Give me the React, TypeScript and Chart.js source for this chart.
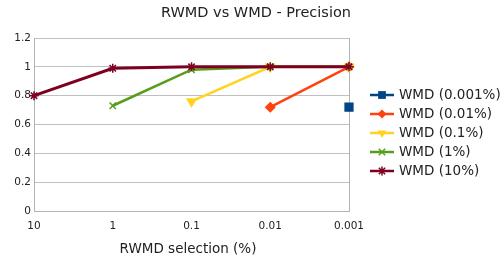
import React, { useEffect, useRef } from "react";
import { Chart, registerables } from "chart.js";

Chart.register(...registerables);

const categories = ["10", "1", "0.1", "0.01", "0.001"];
const seriesNames = ["WMD (0.001%)", "WMD (0.01%)", "WMD (0.1%)", "WMD (1%)", "WMD (10%)"];
const wmd0001 = [null, null, null, null, 0.72];
const wmd001 = [null, null, null, 0.72, 1.0];
const wmd01 = [null, null, 0.76, 1.0, 1.0];
const wmd1 = [null, 0.73, 0.98, 1.0, 1.0];
const wmd10 = [0.8, 0.99, 1.0, 1.0, 1.0];
const yTicks = [0, 0.2, 0.4, 0.6, 0.8, 1, 1.2];

const colors = ["#004586", "#ff420e", "#ffd320", "#579d1c", "#7e0021"];
const styles: any[] = ["rect", "rectRot", "triangle", "crossRot", "star"];
const radii = [5.5, 4.5, 5, 4.5, 4.5];
const rotations = [0, 0, 180, 0, 0];

const FONT = "'DejaVu Sans', sans-serif";

function drawMarker(ctx: CanvasRenderingContext2D, i: number, x: number, y: number) {
  const r = radii[i];
  ctx.save();
  ctx.fillStyle = colors[i];
  ctx.strokeStyle = colors[i];
  ctx.lineWidth = 1.5;
  ctx.beginPath();
  if (i === 0) {
    const s = r * Math.SQRT1_2;
    ctx.rect(x - s, y - s, 2 * s, 2 * s);
    ctx.fill();
  } else if (i === 1) {
    ctx.moveTo(x, y - r);
    ctx.lineTo(x + r, y);
    ctx.lineTo(x, y + r);
    ctx.lineTo(x - r, y);
    ctx.closePath();
    ctx.fill();
  } else if (i === 2) {
    ctx.moveTo(x - r * 0.87, y - r * 0.5);
    ctx.lineTo(x + r * 0.87, y - r * 0.5);
    ctx.lineTo(x, y + r);
    ctx.closePath();
    ctx.fill();
  } else if (i === 3) {
    const s = r * Math.SQRT1_2;
    ctx.moveTo(x - s, y - s);
    ctx.lineTo(x + s, y + s);
    ctx.moveTo(x + s, y - s);
    ctx.lineTo(x - s, y + s);
    ctx.stroke();
  } else {
    const s = r * Math.SQRT1_2;
    ctx.moveTo(x - s, y - s);
    ctx.lineTo(x + s, y + s);
    ctx.moveTo(x + s, y - s);
    ctx.lineTo(x - s, y + s);
    ctx.moveTo(x, y - r);
    ctx.lineTo(x, y + r);
    ctx.moveTo(x - r, y);
    ctx.lineTo(x + r, y);
    ctx.stroke();
  }
  ctx.restore();
}

export default function App() {
  const ref = useRef<HTMLCanvasElement>(null);
  useEffect(() => {
    document.body.style.margin = "0";
    const values = [wmd0001, wmd001, wmd01, wmd1, wmd10];
    const deco = {
      id: "deco",
      beforeDatasetsDraw(chart: any) {
        const ctx = chart.ctx;
        const a = chart.chartArea;
        ctx.save();
        ctx.strokeStyle = "#b3b3b3";
        ctx.lineWidth = 1;
        ctx.beginPath();
        ctx.moveTo(Math.round(a.right) + 0.5, a.top);
        ctx.lineTo(Math.round(a.right) + 0.5, a.bottom);
        ctx.stroke();
        ctx.restore();
      },
      afterDraw(chart: any) {
        const ctx = chart.ctx;
        ctx.save();
        ctx.fillStyle = "#222";
        ctx.font = `14.5px ${FONT}`;
        ctx.textAlign = "center";
        ctx.textBaseline = "middle";
        ctx.fillText("RWMD vs WMD - Precision", 256, 13);
        ctx.font = `13.5px ${FONT}`;
        ctx.fillText("RWMD selection (%)", 188, 249);
        const ys = [95, 114, 133, 152, 171];
        for (let i = 0; i < seriesNames.length; i++) {
          const y = ys[i];
          ctx.strokeStyle = colors[i];
          ctx.lineWidth = 2.5;
          ctx.beginPath();
          ctx.moveTo(370, y);
          ctx.lineTo(394, y);
          ctx.stroke();
          drawMarker(ctx, i, 382, y);
          ctx.fillStyle = "#222";
          ctx.textAlign = "left";
          ctx.font = `13.5px ${FONT}`;
          ctx.fillText(seriesNames[i], 399, y + 0.5);
        }
        ctx.restore();
      },
    };
    const chart = new Chart(ref.current!, {
      type: "line",
      data: {
        labels: categories,
        datasets: values.map((v, i) => ({
          label: seriesNames[i],
          data: v,
          borderColor: colors[i],
          backgroundColor: colors[i],
          borderWidth: i === 4 ? 3 : 2.5,
          pointStyle: styles[i],
          pointRadius: radii[i],
          pointRotation: rotations[i],
          pointBorderWidth: 1.5,
          spanGaps: false,
          clip: false as any,
          order: 4 - i,
          tension: 0,
        })),
      },
      options: {
        animation: false,
        responsive: false,
        devicePixelRatio: 1,
        layout: { padding: { top: 38, right: 154, left: 0, bottom: 0 } },
        plugins: { legend: { display: false }, title: { display: false }, tooltip: { enabled: false } },
        scales: {
          x: {
            type: "category",
            offset: false,
            grid: { display: false, drawTicks: false },
            border: { display: true, color: "#b3b3b3", width: 1 },
            ticks: { color: "#222", font: { family: FONT, size: 10.5 }, padding: 9, maxRotation: 0, autoSkip: false },
            afterFit: (s: any) => { s.height = 50; },
          },
          y: {
            min: 0,
            max: 1.2,
            afterBuildTicks: (s: any) => { s.ticks = yTicks.map((v) => ({ value: v })); },
            grid: { color: "#c0c0c0", drawTicks: false, lineWidth: 1 },
            border: { display: true, color: "#b3b3b3", width: 1 },
            ticks: {
              color: "#222",
              font: { family: FONT, size: 10.5 },
              padding: 3,
              callback: (v: any) => String(Number(Number(v).toFixed(1))),
            },
            afterFit: (s: any) => { s.width = 34; },
          },
        },
      },
      plugins: [deco],
    });
    return () => chart.destroy();
  }, []);
  return <canvas ref={ref} width={503} height={261} style={{ display: "block", width: 503, height: 261 }} />;
}
